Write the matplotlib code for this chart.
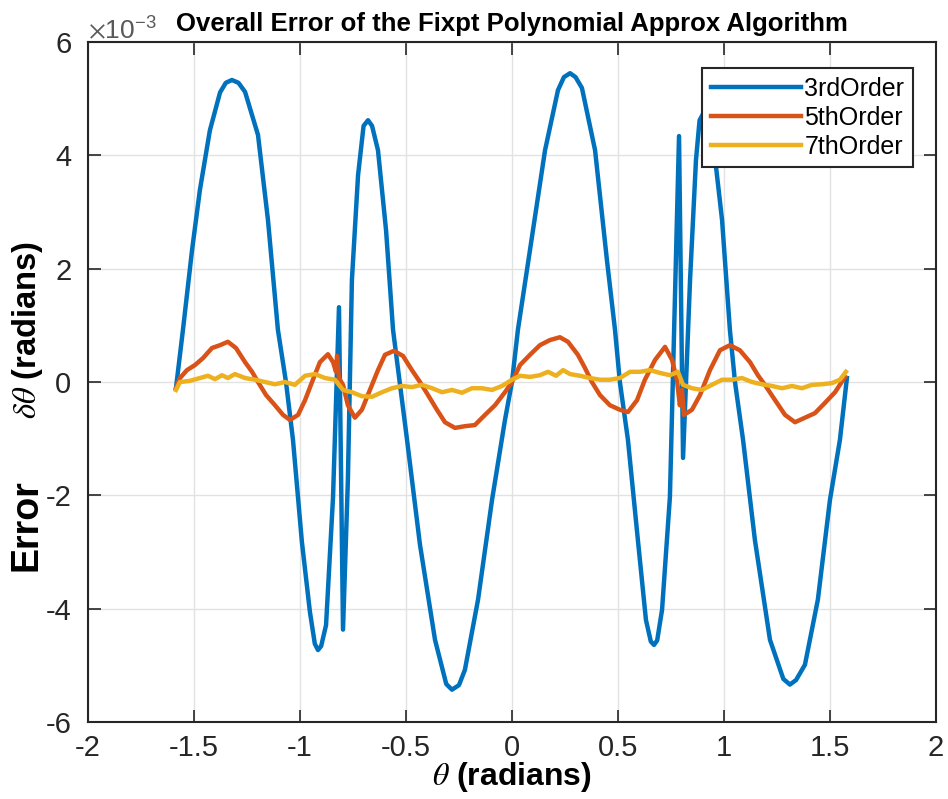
import matplotlib
matplotlib.use("Agg")
import matplotlib.pyplot as plt

plt.rcParams["font.family"] = ["Liberation Sans", "DejaVu Sans"]
plt.rcParams["mathtext.fontset"] = "stix"
plt.rcParams["axes.unicode_minus"] = False

# 误差数据（单位 1e-3 rad）
theta_3rd = [-1.585, -1.552, -1.509, -1.472, -1.425, -1.377, -1.350, -1.321, -1.290, -1.259,
             -1.198, -1.151, -1.104, -1.066, -1.033, -0.991, -0.953, -0.930, -0.915, -0.900,
             -0.877, -0.844, -0.816, -0.797, -0.774, -0.755, -0.726, -0.700, -0.679, -0.660,
             -0.632, -0.594, -0.561, -0.528, -0.495, -0.434, -0.363, -0.310, -0.283, -0.250,
             -0.222, -0.160, -0.094, -0.033, 0.0, 0.028, 0.085, 0.156, 0.217, 0.245,
             0.274, 0.300, 0.330, 0.392, 0.448, 0.486, 0.509, 0.547, 0.594, 0.632,
             0.655, 0.670, 0.685, 0.708, 0.745, 0.788, 0.807, 0.840, 0.868, 0.885,
             0.901, 0.920, 0.943, 0.991, 1.028, 1.052, 1.090, 1.146, 1.217, 1.280,
             1.311, 1.340, 1.382, 1.443, 1.500, 1.547, 1.580]
err_3rd = [-0.11, 0.92, 2.33, 3.39, 4.44, 5.11, 5.28, 5.33, 5.28, 5.12,
           4.36, 2.86, 0.92, 0.0, -1.02, -2.82, -4.06, -4.62, -4.73, -4.66,
           -4.29, -2.03, 1.32, -4.37, -1.73, 1.80, 3.65, 4.52, 4.62, 4.52,
           4.09, 2.68, 0.92, -0.05, -1.02, -2.87, -4.55, -5.33, -5.43, -5.35,
           -5.08, -3.84, -2.08, -0.67, 0.0, 0.92, 2.33, 4.09, 5.15, 5.38,
           5.45, 5.38, 5.19, 4.09, 2.15, 0.92, 0.0, -1.02, -2.79, -4.20,
           -4.58, -4.64, -4.56, -4.02, -2.03, 4.34, -1.34, 1.80, 3.92, 4.62,
           4.73, 4.66, 4.44, 2.86, 0.92, 0.0, -1.02, -2.79, -4.55, -5.24,
           -5.34, -5.26, -4.99, -3.84, -2.08, -1.02, 0.07]

theta_5th = [-1.585, -1.566, -1.533, -1.495, -1.458, -1.415, -1.377, -1.340, -1.302, -1.259,
             -1.226, -1.198, -1.160, -1.118, -1.080, -1.047, -1.009, -0.976, -0.939, -0.906,
             -0.868, -0.844, -0.830, -0.825, -0.816, -0.797, -0.774, -0.741, -0.708, -0.670,
             -0.632, -0.599, -0.557, -0.514, -0.472, -0.434, -0.396, -0.354, -0.316, -0.269,
             -0.222, -0.175, -0.127, -0.080, -0.033, 0.0, 0.038, 0.085, 0.132, 0.179,
             0.226, 0.264, 0.311, 0.344, 0.377, 0.415, 0.462, 0.509, 0.547, 0.590,
             0.627, 0.675, 0.722, 0.755, 0.778, 0.792, 0.802, 0.811, 0.849, 0.887,
             0.934, 0.981, 1.028, 1.075, 1.123, 1.160, 1.193, 1.241, 1.288, 1.335,
             1.382, 1.429, 1.476, 1.524, 1.571]
err_5th = [-0.11, 0.07, 0.21, 0.30, 0.42, 0.60, 0.65, 0.71, 0.60, 0.35,
           0.18, 0.0, -0.23, -0.41, -0.58, -0.67, -0.58, -0.32, 0.04, 0.35,
           0.49, 0.35, 0.18, 0.46, 0.07, -0.05, -0.41, -0.63, -0.49, -0.14,
           0.21, 0.48, 0.55, 0.46, 0.21, 0.0, -0.23, -0.49, -0.71, -0.81,
           -0.78, -0.76, -0.58, -0.41, -0.18, 0.0, 0.30, 0.48, 0.65, 0.74,
           0.79, 0.71, 0.48, 0.25, 0.0, -0.23, -0.41, -0.49, -0.53, -0.32,
           0.04, 0.39, 0.62, 0.39, 0.04, -0.41, -0.14, -0.58, -0.49, -0.23,
           0.21, 0.56, 0.65, 0.56, 0.35, 0.12, -0.05, -0.32, -0.58, -0.71,
           -0.63, -0.55, -0.37, -0.18, 0.09]

theta_7th = [-1.585, -1.566, -1.519, -1.472, -1.434, -1.401, -1.368, -1.340, -1.307, -1.259,
             -1.212, -1.165, -1.118, -1.071, -1.024, -0.976, -0.929, -0.882, -0.835, -0.797,
             -0.755, -0.708, -0.660, -0.613, -0.566, -0.519, -0.472, -0.425, -0.377, -0.330,
             -0.283, -0.236, -0.189, -0.142, -0.094, -0.047, 0.0, 0.038, 0.085, 0.132,
             0.170, 0.208, 0.241, 0.274, 0.321, 0.368, 0.415, 0.462, 0.509, 0.557,
             0.604, 0.651, 0.698, 0.745, 0.783, 0.807, 0.849, 0.896, 0.943, 0.991,
             1.038, 1.085, 1.132, 1.179, 1.226, 1.274, 1.321, 1.368, 1.415, 1.462,
             1.509, 1.547, 1.575]
err_7th = [-0.14, 0.0, 0.02, 0.07, 0.11, 0.05, 0.12, 0.07, 0.14, 0.07,
           0.04, 0.0, -0.04, 0.0, -0.05, 0.11, 0.14, 0.07, 0.04, -0.14,
           -0.18, -0.25, -0.26, -0.18, -0.11, -0.07, -0.09, -0.05, -0.11, -0.18,
           -0.14, -0.19, -0.11, -0.11, -0.14, -0.07, 0.04, 0.11, 0.09, 0.12,
           0.18, 0.11, 0.21, 0.14, 0.11, 0.07, 0.04, 0.04, 0.07, 0.18,
           0.18, 0.21, 0.16, 0.12, 0.18, -0.05, -0.11, -0.14, -0.05, 0.04,
           0.04, 0.07, 0.0, -0.04, -0.07, -0.11, -0.07, -0.11, -0.05, -0.04,
           -0.02, 0.04, 0.18]

x_ticks = [-2, -1.5, -1, -0.5, 0, 0.5, 1, 1.5, 2]
x_ticklabels = ["-2", "-1.5", "-1", "-0.5", "0", "0.5", "1", "1.5", "2"]
y_ticks = [-6, -4, -2, 0, 2, 4, 6]
y_ticklabels = ["-6", "-4", "-2", "0", "2", "4", "6"]

series = [
    (theta_3rd, err_3rd, "3rdOrder", "#0072BD"),
    (theta_5th, err_5th, "5thOrder", "#D95319"),
    (theta_7th, err_7th, "7thOrder", "#EDB120"),
]

fig = plt.figure(figsize=(9.48, 7.99), dpi=100)
ax = fig.add_axes([0.0928, 0.0964, 0.8945, 0.851])

for th, e, name, c in series:
    ax.plot(th, e, color=c, lw=3.2, label=name, solid_joinstyle="round")

ax.set_xlim(-2, 2)
ax.set_ylim(-6, 6)
ax.set_xticks(x_ticks)
ax.set_xticklabels(x_ticklabels)
ax.set_yticks(y_ticks)
ax.set_yticklabels(y_ticklabels)

# MATLAB 风格的指数标注
ax.text(0.0, 0.997, r"$\times\mathregular{10^{-3}}$", transform=ax.transAxes,
        fontsize=19, color="#595959", ha="left", va="bottom")

ax.grid(True, color="#e2e2e2", lw=1)
ax.set_axisbelow(True)
ax.tick_params(direction="in", length=9, width=1.2, top=True, right=True,
               labelsize=21, colors="#262626")
ax.tick_params(axis="x", pad=9)
ax.tick_params(axis="y", pad=12)
for sp in ax.spines.values():
    sp.set_color("#262626")
    sp.set_linewidth(1.5)

ax.set_title("Overall Error of the Fixpt Polynomial Approx Algorithm",
             fontsize=18.5, fontweight="bold", pad=8, x=0.5)
ax.set_xlabel(r"$\theta$ (radians)", fontsize=23, fontweight="bold")
ax.xaxis.set_label_coords(0.5, -0.056)

fig.text(0.028, 0.343, "Error", rotation=90, fontsize=27, fontweight="bold",
         ha="center", va="center")
fig.text(0.029, 0.587, r"$\delta\theta$ (radians)", rotation=90, fontsize=23.5,
         fontweight="bold", ha="center", va="center")

leg = ax.legend(loc="upper right", bbox_to_anchor=(0.973, 0.962), borderaxespad=0,
                fontsize=18, handlelength=3.6, handletextpad=0.15,
                labelspacing=0.2, borderpad=0.35, fancybox=False, framealpha=1)
leg.get_frame().set_edgecolor("#262626")
leg.get_frame().set_linewidth(1.5)

fig.savefig("out.png", dpi=100)
